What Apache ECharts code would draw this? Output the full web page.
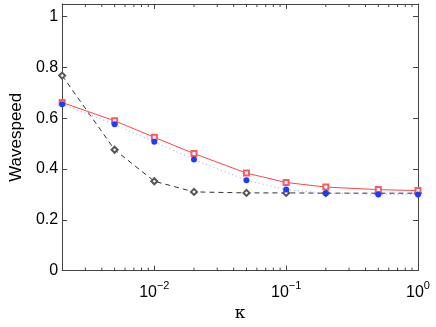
<!DOCTYPE html>
<html>
<head>
<meta charset="utf-8">
<script src="https://cdn.jsdelivr.net/npm/echarts@6/dist/echarts.min.js"></script>
<style>
  html, body { margin: 0; padding: 0; background: #fff; }
  #main { width: 436px; height: 327px; }
</style>
</head>
<body>
<div id="main"></div>
<script>
// kappa values (x, log scale)
var kappa = [0.002, 0.005, 0.01, 0.02, 0.05, 0.1, 0.2, 0.5, 1];
// wavespeed series
var redSquares = [0.662, 0.590, 0.525, 0.461, 0.384, 0.347, 0.329, 0.319, 0.315];
var blueDots = [0.655, 0.576, 0.507, 0.438, 0.356, 0.319, 0.305, 0.300, 0.300];
var blackDiamonds = [0.768, 0.476, 0.352, 0.310, 0.306, 0.306, 0.305, 0.305, 0.305];
// minor tick positions on the log axis
var minorTicks = [0.003, 0.004, 0.005, 0.006, 0.007, 0.008, 0.009,
  0.02, 0.03, 0.04, 0.05, 0.06, 0.07, 0.08, 0.09,
  0.2, 0.3, 0.4, 0.5, 0.6, 0.7, 0.8, 0.9];
var yTicks = [0, 0.2, 0.4, 0.6, 0.8, 1];

var X_MIN = 0.002, X_MAX = 1, Y_MIN = 0, Y_MAX = 1.05;
var frameColor = '#444';

function pairs(ys) {
  return kappa.map(function (k, i) { return [k, ys[i]]; });
}

function powLabel(v) {
  var e = Math.log10(v);
  if (Math.abs(e - Math.round(e)) > 1e-6) return '';
  var n = Math.round(e);
  return '{b|10}{s|' + (n < 0 ? '\u2212' + (-n) : n) + '}';
}

var chart = echarts.init(document.getElementById('main'), null, { renderer: 'canvas' });

var option = {
  backgroundColor: '#ffffff',
  animation: false,
  grid: { left: 58, right: 18, top: 4, bottom: 50 },
  xAxis: [{
    type: 'log',
    logBase: 10,
    min: X_MIN,
    max: X_MAX,
    name: '\u03ba',
    nameLocation: 'middle',
    nameGap: 32,
    nameTextStyle: { fontFamily: 'DejaVu Serif', fontSize: 17, color: '#000' },
    axisLine: { show: true, onZero: false, lineStyle: { color: frameColor, width: 1 } },
    axisTick: { show: true, inside: true, length: 5, lineStyle: { color: frameColor } },
    splitLine: { show: false },
    axisLabel: {
      margin: 10,
      formatter: powLabel,
      showMinLabel: true,
      rich: {
        b: { fontFamily: 'Liberation Sans', fontSize: 16, color: '#000' },
        s: { fontFamily: 'Liberation Sans', fontSize: 11, color: '#000', padding: [0, 0, 12, 0] }
      }
    }
  }, {
    type: 'log',
    logBase: 10,
    min: X_MIN,
    max: X_MAX,
    position: 'top',
    axisLine: { show: true, onZero: false, lineStyle: { color: frameColor, width: 1 } },
    axisTick: { show: true, inside: true, length: 5, lineStyle: { color: frameColor } },
    axisLabel: { show: false },
    splitLine: { show: false }
  }],
  yAxis: [{
    type: 'value',
    min: Y_MIN,
    max: Y_MAX,
    interval: 0.2,
    name: 'Wavespeed',
    nameLocation: 'middle',
    nameGap: 36,
    nameTextStyle: { fontFamily: 'Liberation Sans', fontSize: 17, color: '#000' },
    axisLine: { show: true, onZero: false, lineStyle: { color: frameColor, width: 1 } },
    axisTick: { show: true, inside: true, length: 5, lineStyle: { color: frameColor } },
    splitLine: { show: false },
    axisLabel: {
      margin: 4,
      fontFamily: 'Liberation Sans',
      fontSize: 16,
      color: '#000',
      showMaxLabel: false,
      formatter: function (v) {
        for (var i = 0; i < yTicks.length; i++) {
          if (Math.abs(v - yTicks[i]) < 1e-6) return String(yTicks[i]);
        }
        return '';
      }
    }
  }, {
    type: 'value',
    min: Y_MIN,
    max: Y_MAX,
    interval: 0.2,
    position: 'right',
    axisLine: { show: true, onZero: false, lineStyle: { color: frameColor, width: 1 } },
    axisTick: { show: true, inside: true, length: 5, lineStyle: { color: frameColor } },
    axisLabel: { show: false },
    splitLine: { show: false }
  }],
  series: [{
    // minor ticks on bottom and top edges
    type: 'custom',
    silent: true,
    clip: false,
    data: minorTicks.map(function (m) { return [m, 0]; }),
    renderItem: function (params, api) {
      var x = api.value(0);
      var b = api.coord([x, Y_MIN]);
      var t = api.coord([x, Y_MAX]);
      var st = { stroke: frameColor, lineWidth: 1 };
      return {
        type: 'group',
        children: [
          { type: 'line', shape: { x1: b[0], y1: b[1], x2: b[0], y2: b[1] - 3 }, style: st },
          { type: 'line', shape: { x1: t[0], y1: t[1], x2: t[0], y2: t[1] + 3 }, style: st }
        ]
      };
    }
  }, {
    name: 'black',
    type: 'line',
    data: pairs(blackDiamonds),
    symbol: 'emptyDiamond',
    symbolSize: 6,
    lineStyle: { color: '#333', width: 1, type: [5, 4] },
    itemStyle: { color: '#555', borderWidth: 0.8 }
  }, {
    name: 'red',
    type: 'line',
    data: pairs(redSquares),
    symbol: 'emptyRect',
    symbolSize: 5,
    lineStyle: { color: '#ff4646', width: 1 },
    itemStyle: { color: '#ff5a5a', borderWidth: 1 }
  }, {
    name: 'blue',
    type: 'line',
    data: pairs(blueDots),
    symbol: 'circle',
    symbolSize: 6,
    lineStyle: { color: '#9aa0ff', width: 1, type: [1, 3] },
    itemStyle: { color: '#1e3cff' }
  }]
};

chart.setOption(option);
</script>
</body>
</html>
